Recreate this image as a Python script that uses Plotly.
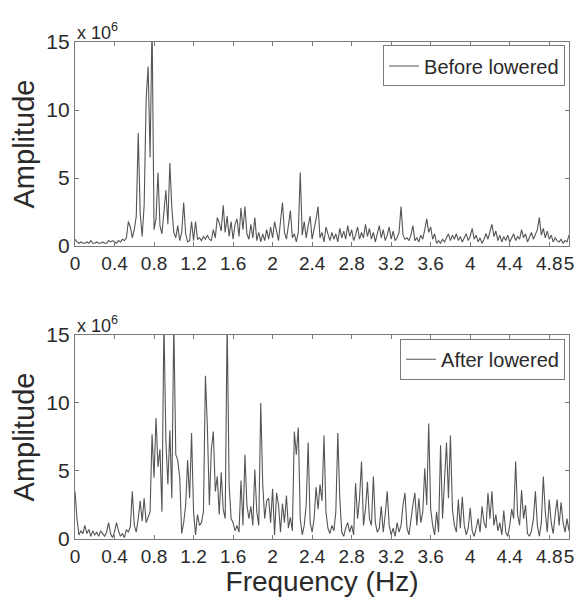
import plotly.graph_objects as go

# Amplitude (x 10^6), sampled every 0.02 Hz from 0 to 5 Hz
before_lowered = [
    0.5, 0.3, 0.2, 0.3, 0.2, 0.2, 0.3, 0.2, 0.4, 0.2,
    0.2, 0.3, 0.2, 0.2, 0.3, 0.2, 0.2, 0.4, 0.3, 0.4,
    0.3, 0.2, 0.4, 0.3, 0.5, 0.4, 0.6, 1.8, 1.4, 0.6,
    1.2, 2.2, 8.3, 2.4, 0.7, 3.0, 10.8, 13.2, 6.5, 16.5,
    1.2, 2.0, 5.4, 1.5, 0.9, 2.6, 4.1, 1.6, 6.1, 2.8,
    1.0, 0.6, 1.5, 0.4, 1.0, 3.2, 0.9, 0.3, 0.4, 1.8,
    0.4, 1.8, 0.5, 0.6, 0.4, 0.7, 0.5, 0.8, 0.5, 0.4,
    1.2, 0.6, 2.1, 1.7, 1.1, 3.0, 1.0, 2.2, 0.7, 1.8,
    0.5, 1.6, 2.0, 0.7, 2.8, 1.2, 2.9, 0.9, 0.5, 1.6,
    0.6, 2.1, 0.4, 1.0, 0.3, 0.9, 0.4, 1.2, 0.5, 1.4,
    0.6, 1.8, 1.2, 0.4, 1.8, 3.2, 1.0, 0.5, 1.5, 2.6,
    0.6, 0.9, 0.3, 1.0, 5.4, 0.8, 1.8, 0.6, 1.5, 2.2,
    0.5, 1.2, 2.0, 2.9, 0.6, 1.0, 0.3, 1.4, 0.8, 0.4,
    1.0, 0.5, 0.9, 0.3, 1.3, 0.6, 1.1, 0.5, 1.5, 0.7,
    1.2, 0.4, 0.8, 1.4, 0.5, 1.0, 0.6, 1.6, 0.7, 1.3,
    0.5, 1.0, 0.3, 0.9, 1.5, 0.6, 1.2, 0.4, 0.8, 1.4,
    0.5, 1.1, 0.4, 0.6, 1.0, 2.9, 0.8, 0.5, 0.6, 0.4,
    0.8, 1.5, 0.4, 0.6, 0.3, 0.8, 0.5, 1.2, 2.0, 1.0,
    1.4, 0.5, 0.9, 0.2, 0.4, 0.2, 0.5, 0.3, 0.6, 0.9,
    0.4, 0.8, 0.5, 0.9, 0.4, 0.7, 0.3, 0.6, 0.9, 0.4,
    0.7, 1.3, 0.5, 0.8, 0.3, 0.6, 0.2, 0.5, 0.9, 0.5,
    1.0, 1.6, 0.7, 1.1, 0.4, 0.8, 0.3, 0.7, 0.4, 0.8,
    0.3, 0.6, 0.9, 0.4, 0.7, 0.5, 1.2, 0.6, 0.9, 0.3,
    0.7, 1.0, 0.5, 0.8, 1.2, 2.1, 0.8, 1.3, 0.6, 1.1,
    0.5, 0.8, 0.3, 0.6, 0.4, 0.3, 0.5, 0.2, 0.4, 0.3,
    0.8,
]

after_lowered = [
    3.5, 1.5, 0.3, 0.6, 0.4, 1.0, 0.4, 0.7, 0.2, 0.6,
    0.3, 0.5, 0.2, 0.6, 0.4, 0.2, 0.5, 1.2, 0.4, 0.1,
    0.5, 1.2, 0.6, 0.2, 0.4, 0.1, 0.7, 0.5, 0.9, 3.5,
    1.0, 0.5, 1.5, 2.8, 1.3, 3.0, 1.2, 1.6, 2.0, 7.7,
    4.5, 8.9, 5.3, 6.6, 2.0, 16.0, 7.2, 4.0, 8.0, 3.0,
    16.0, 6.2, 5.8, 4.5, 0.4, 1.2, 2.5, 5.8, 3.0, 7.8,
    2.0, 0.3, 1.8, 1.0, 1.2, 2.0, 12.0, 8.2, 2.5, 6.6,
    7.9, 3.5, 4.6, 1.8, 4.9, 2.2, 1.5, 16.0, 4.0, 1.5,
    1.2, 0.6, 1.0, 0.5, 4.3, 1.0, 6.2, 2.5, 1.5, 2.4,
    1.0, 5.1, 2.0, 1.0, 10.0, 4.0, 1.5, 2.8, 3.0, 1.2,
    3.7, 0.3, 3.4, 2.5, 0.5, 2.6, 1.2, 3.2, 0.8, 1.6,
    0.6, 7.9, 6.2, 8.2, 1.5, 0.3, 1.0, 2.5, 7.1, 1.2,
    0.5, 1.5, 3.8, 2.2, 4.0, 2.8, 7.6, 2.0, 0.8, 0.4,
    1.0, 0.6, 2.0, 7.8, 3.0, 0.5, 0.2, 0.8, 1.2, 0.5,
    1.0, 0.3, 4.1, 1.5, 3.0, 5.7, 1.0, 2.2, 4.2, 1.5,
    1.0, 4.6, 1.2, 0.5, 0.8, 2.4, 0.5, 1.8, 3.5, 1.0,
    0.3, 0.8, 0.2, 1.2, 0.5, 1.0, 2.5, 3.4, 0.8, 0.3,
    1.5, 2.5, 3.4, 1.0, 3.0, 1.2, 2.0, 5.2, 2.5, 8.5,
    2.2, 1.0, 0.3, 2.0, 0.5, 6.9, 1.5, 4.5, 7.1, 3.0,
    7.6, 2.2, 1.0, 0.5, 2.9, 0.8, 3.1, 1.0, 0.3, 0.8,
    2.3, 0.6, 0.2, 0.8, 1.5, 0.5, 2.4, 1.2, 0.8, 3.4,
    1.5, 3.5, 1.0, 1.8, 0.6, 1.2, 0.3, 2.1, 0.5, 0.2,
    1.0, 2.2, 1.5, 5.7, 1.8, 1.0, 3.6, 1.5, 2.5, 0.4,
    0.2, 0.6, 1.5, 3.5, 1.0, 0.2, 1.2, 4.6, 2.0, 0.5,
    2.9, 1.2, 0.4, 1.8, 2.9, 1.0, 2.7, 1.2, 0.5, 1.5,
    0.6,
]

freq_step = 0.02
freq_before = [round(i * freq_step, 2) for i in range(len(before_lowered))]
freq_after = [round(i * freq_step, 2) for i in range(len(after_lowered))]

x_tick_vals = [0, 0.4, 0.8, 1.2, 1.6, 2, 2.4, 2.8, 3.2, 3.6, 4, 4.4, 4.8, 5]
x_tick_text = ["0", "0.4", "0.8", "1.2", "1.6", "2", "2.4", "2.8", "3.2", "3.6", "4", "4.4", "4.8", "5"]
y_tick_vals = [0, 5, 10, 15]

FONT = "Liberation Sans, Arial, sans-serif"
TXT = "#2a2a2a"
AX = "#7a7a7a"
LINE = "#555555"

fig = go.Figure()
fig.add_trace(go.Scatter(x=freq_before, y=before_lowered, mode="lines",
                         line=dict(color=LINE, width=1.1), name="Before lowered",
                         xaxis="x", yaxis="y", legend="legend"))
fig.add_trace(go.Scatter(x=freq_after, y=after_lowered, mode="lines",
                         line=dict(color=LINE, width=1.1), name="After lowered",
                         xaxis="x2", yaxis="y2", legend="legend2"))

def xax(anchor, title=None):
    d = dict(range=[0, 5], tickvals=x_tick_vals, ticktext=x_tick_text,
             ticks="inside", ticklen=4, tickcolor=AX, showline=True,
             linecolor=AX, linewidth=1.3, mirror="ticks", showgrid=False,
             zeroline=False, anchor=anchor, domain=[0, 1], tickangle=0,
             automargin=False,
             tickfont=dict(family=FONT, size=19, color=TXT))
    if title:
        d["title"] = dict(text=title, font=dict(family=FONT, size=28, color=TXT), standoff=4)
    return d

def yax(anchor, domain):
    return dict(range=[0, 15], tickvals=y_tick_vals, ticks="inside", ticklen=4,
                tickcolor=AX, showline=True, linecolor=AX, linewidth=1.3,
                mirror="ticks", showgrid=False, zeroline=False, anchor=anchor,
                domain=domain, automargin=False,
                tickfont=dict(family=FONT, size=21, color=TXT),
                title=dict(text="Amplitude", font=dict(family=FONT, size=29, color=TXT), standoff=8))

top_dom = [0.5895, 1.0]
bot_dom = [0.0, 0.4105]

legend_style = dict(bgcolor="white", bordercolor=AX, borderwidth=1,
                    font=dict(family=FONT, size=20, color=TXT),
                    xanchor="right", yanchor="top", x=0.992,
                    tracegroupgap=0, itemwidth=30)

annotations = []
for ytop in (1.0, bot_dom[1]):
    annotations.append(dict(text="x 10<sup>6</sup>", xref="paper", yref="paper", x=0.0, y=ytop,
                            xanchor="left", yanchor="bottom", showarrow=False, yshift=-3,
                            font=dict(family=FONT, size=18, color=TXT)))

fig.update_layout(
    width=579, height=589,
    margin=dict(l=67, r=18, t=34, b=58, autoexpand=False),
    paper_bgcolor="white", plot_bgcolor="white",
    font=dict(family=FONT, color=TXT),
    xaxis=xax("y"),
    yaxis=yax("x", top_dom),
    xaxis2=xax("y2", "Frequency (Hz)"),
    yaxis2=yax("x2", bot_dom),
    legend=dict(legend_style, y=0.993),
    legend2=dict(legend_style, y=0.403),
    showlegend=True,
    annotations=annotations,
)

fig.write_html("out.html")
